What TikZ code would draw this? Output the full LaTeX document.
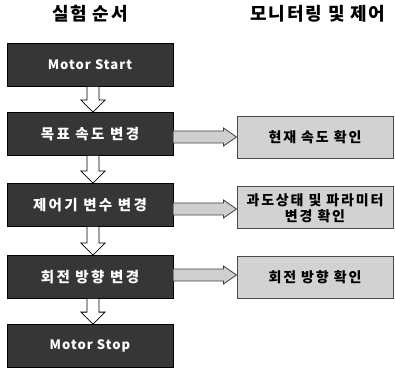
\documentclass[tikz,border=0pt]{standalone}
\usepackage{fontspec}
\setmainfont{Noto Sans CJK KR}
\newfontfamily\latinboxfont{Noto Sans CJK KR}[LetterSpace=8]
\newfontfamily\krboxfont{Noto Sans CJK KR}[LetterSpace=16]
\newfontfamily\rboxfont{Noto Sans CJK KR}[LetterSpace=13]
\newfontfamily\titlefont{Noto Sans CJK KR}[LetterSpace=10]
\usetikzlibrary{calc}
\definecolor{lboxfill}{HTML}{363636}
\definecolor{rboxfill}{HTML}{D2D2D2}
\definecolor{rboxline}{HTML}{4A4A4A}
\definecolor{harrfill}{HTML}{CFCFCF}
\newcommand\vhollow[2]{\filldraw[varr] ($(#1.south)+(-3,0)$) -- ($(#2.north)+(-3,12)$) -- ($(#2.north)+(-9,12)$) -- ($(#2.north)+(3,0)$) -- ($(#2.north)+(15,12)$) -- ($(#2.north)+(9,12)$) -- ($(#1.south)+(9,0)$);}
\newcommand\hgray[3]{\filldraw[harr] ($(#1.east)+(0,#3-6)$) -- ($(#1.east -| #2.west)+(-13,#3-6)$) -- ($(#1.east -| #2.west)+(-13,#3-9)$) -- ($(#1.east -| #2.west)+(0,#3)$) -- ($(#1.east -| #2.west)+(-13,#3+9)$) -- ($(#1.east -| #2.west)+(-13,#3+6)$) -- ($(#1.east)+(0,#3+6)$);}
\begin{document}
\begin{tikzpicture}[x=1pt,y=1pt,
  lbox/.style={draw=black, line width=0.8pt, fill=lboxfill, minimum width=166pt, minimum height=43pt, inner sep=0pt, text=white, font=\krboxfont\bfseries\fontsize{14.5}{16}\selectfont},
  lboxlatin/.style={lbox, font=\latinboxfont\bfseries\fontsize{13}{15}\selectfont},
  rbox/.style={draw=rboxline, line width=1pt, fill=rboxfill, minimum width=156pt, minimum height=42pt, inner sep=0pt, align=center, text=black, font=\rboxfont\bfseries\fontsize{14}{16}\selectfont},
  titletext/.style={font=\titlefont\bfseries\fontsize{18}{20}\selectfont},
  varr/.style={draw=black, fill=white, line width=0.8pt, line join=miter},
  harr/.style={draw=black!75, fill=harrfill, line width=0.8pt, line join=miter}]
\useasboundingbox (0,0) rectangle (395,369);
\node[titletext] (t1) at (90,355) {실험 순서};
\node[titletext] (t2) at (318,355) {모니터링 및 제어};
\node[lboxlatin] (L1) at (90,304) {Motor Start};
\node[lbox] (L2) at (90,235) {목표 속도 변경};
\node[lbox] (L3) at (90,164) {제어기 변수 변경};
\node[lbox] (L4) at (90,92) {회전 방향 변경};
\node[lboxlatin] (L5) at (90,23) {Motor Stop};
\node[rbox] (R1) at (315,231.5) {현재 속도 확인};
\node[rbox] (R2) at (315,161) {과도상태 및 파라미터\\변경 확인};
\node[rbox] (R3) at (315,91.5) {회전 방향 확인};
\vhollow{L1}{L2}
\vhollow{L2}{L3}
\vhollow{L3}{L4}
\vhollow{L4}{L5}
\hgray{L2}{R1}{-3}
\hgray{L3}{R2}{-4}
\hgray{L4}{R3}{2}
\end{tikzpicture}
\end{document}
